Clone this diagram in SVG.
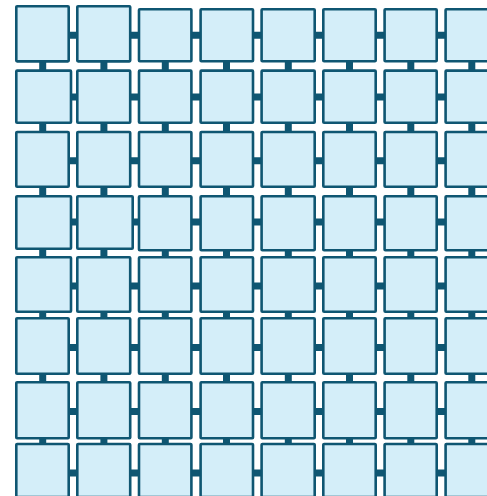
<svg xmlns="http://www.w3.org/2000/svg" width="487" height="496" viewBox="0 0 487 496">
<style>
.e{stroke:#0f5672;stroke-width:7;fill:none}
.n rect{fill:#d4eef9;stroke:#0f5672;stroke-width:2.6}
</style>
<rect width="487" height="496" fill="#ffffff"/>
<g id="connectors">
<path class="e" d="M42.7 35.2H103.9"/><path class="e" d="M103.9 35.2H165.3"/><path class="e" d="M165.3 35.2H226.5"/><path class="e" d="M226.5 35.2H288.3"/><path class="e" d="M288.3 35.2H349.5"/><path class="e" d="M349.5 35.2H410.8"/><path class="e" d="M410.8 35.2H471.8"/>
<path class="e" d="M42.7 97H103.9"/><path class="e" d="M103.9 97H165.3"/><path class="e" d="M165.3 97H226.5"/><path class="e" d="M226.5 97H288.3"/><path class="e" d="M288.3 97H349.5"/><path class="e" d="M349.5 97H410.8"/><path class="e" d="M410.8 97H471.8"/>
<path class="e" d="M42.7 160.8H103.9"/><path class="e" d="M103.9 160.8H165.3"/><path class="e" d="M165.3 160.8H226.5"/><path class="e" d="M226.5 160.8H288.3"/><path class="e" d="M288.3 160.8H349.5"/><path class="e" d="M349.5 160.8H410.8"/><path class="e" d="M410.8 160.8H471.8"/>
<path class="e" d="M42.7 222H103.9"/><path class="e" d="M103.9 222H165.3"/><path class="e" d="M165.3 222H226.5"/><path class="e" d="M226.5 222H288.3"/><path class="e" d="M288.3 222H349.5"/><path class="e" d="M349.5 222H410.8"/><path class="e" d="M410.8 222H471.8"/>
<path class="e" d="M42.7 286H103.9"/><path class="e" d="M103.9 286H165.3"/><path class="e" d="M165.3 286H226.5"/><path class="e" d="M226.5 286H288.3"/><path class="e" d="M288.3 286H349.5"/><path class="e" d="M349.5 286H410.8"/><path class="e" d="M410.8 286H471.8"/>
<path class="e" d="M42.7 347.5H103.9"/><path class="e" d="M103.9 347.5H165.3"/><path class="e" d="M165.3 347.5H226.5"/><path class="e" d="M226.5 347.5H288.3"/><path class="e" d="M288.3 347.5H349.5"/><path class="e" d="M349.5 347.5H410.8"/><path class="e" d="M410.8 347.5H471.8"/>
<path class="e" d="M42.7 411.4H103.9"/><path class="e" d="M103.9 411.4H165.3"/><path class="e" d="M165.3 411.4H226.5"/><path class="e" d="M226.5 411.4H288.3"/><path class="e" d="M288.3 411.4H349.5"/><path class="e" d="M349.5 411.4H410.8"/><path class="e" d="M410.8 411.4H471.8"/>
<path class="e" d="M42.7 473.1H103.9"/><path class="e" d="M103.9 473.1H165.3"/><path class="e" d="M165.3 473.1H226.5"/><path class="e" d="M226.5 473.1H288.3"/><path class="e" d="M288.3 473.1H349.5"/><path class="e" d="M349.5 473.1H410.8"/><path class="e" d="M410.8 473.1H471.8"/>
<path class="e" d="M42.7 35.2V97"/><path class="e" d="M42.7 97V160.8"/><path class="e" d="M42.7 160.8V222"/><path class="e" d="M42.7 222V286"/><path class="e" d="M42.7 286V347.5"/><path class="e" d="M42.7 347.5V411.4"/><path class="e" d="M42.7 411.4V473.1"/>
<path class="e" d="M103.9 35.2V97"/><path class="e" d="M103.9 97V160.8"/><path class="e" d="M103.9 160.8V222"/><path class="e" d="M103.9 222V286"/><path class="e" d="M103.9 286V347.5"/><path class="e" d="M103.9 347.5V411.4"/><path class="e" d="M103.9 411.4V473.1"/>
<path class="e" d="M165.3 35.2V97"/><path class="e" d="M165.3 97V160.8"/><path class="e" d="M165.3 160.8V222"/><path class="e" d="M165.3 222V286"/><path class="e" d="M165.3 286V347.5"/><path class="e" d="M165.3 347.5V411.4"/><path class="e" d="M165.3 411.4V473.1"/>
<path class="e" d="M226.5 35.2V97"/><path class="e" d="M226.5 97V160.8"/><path class="e" d="M226.5 160.8V222"/><path class="e" d="M226.5 222V286"/><path class="e" d="M226.5 286V347.5"/><path class="e" d="M226.5 347.5V411.4"/><path class="e" d="M226.5 411.4V473.1"/>
<path class="e" d="M288.3 35.2V97"/><path class="e" d="M288.3 97V160.8"/><path class="e" d="M288.3 160.8V222"/><path class="e" d="M288.3 222V286"/><path class="e" d="M288.3 286V347.5"/><path class="e" d="M288.3 347.5V411.4"/><path class="e" d="M288.3 411.4V473.1"/>
<path class="e" d="M349.5 35.2V97"/><path class="e" d="M349.5 97V160.8"/><path class="e" d="M349.5 160.8V222"/><path class="e" d="M349.5 222V286"/><path class="e" d="M349.5 286V347.5"/><path class="e" d="M349.5 347.5V411.4"/><path class="e" d="M349.5 411.4V473.1"/>
<path class="e" d="M410.8 35.2V97"/><path class="e" d="M410.8 97V160.8"/><path class="e" d="M410.8 160.8V222"/><path class="e" d="M410.8 222V286"/><path class="e" d="M410.8 286V347.5"/><path class="e" d="M410.8 347.5V411.4"/><path class="e" d="M410.8 411.4V473.1"/>
<path class="e" d="M471.8 35.2V97"/><path class="e" d="M471.8 97V160.8"/><path class="e" d="M471.8 160.8V222"/><path class="e" d="M471.8 222V286"/><path class="e" d="M471.8 286V347.5"/><path class="e" d="M471.8 347.5V411.4"/><path class="e" d="M471.8 411.4V473.1"/>
</g>
<g id="nodes">
<g id="n-0-0" class="n"><rect x="16.3" y="6.3" width="52.4" height="55.1" rx="0.8"/></g>
<g id="n-0-1" class="n"><rect x="77.3" y="6.3" width="52.9" height="55.1" rx="0.8"/></g>
<g id="n-0-2" class="n"><rect x="139" y="9.3" width="52.4" height="51.9" rx="0.8"/></g>
<g id="n-0-3" class="n"><rect x="200.6" y="9.3" width="52.4" height="51.9" rx="0.8"/></g>
<g id="n-0-4" class="n"><rect x="261.6" y="9.3" width="53.1" height="51.9" rx="0.8"/></g>
<g id="n-0-5" class="n"><rect x="323.3" y="9.3" width="52.4" height="51.9" rx="0.8"/></g>
<g id="n-0-6" class="n"><rect x="384.6" y="9.3" width="52.1" height="51.9" rx="0.8"/></g>
<g id="n-0-7" class="n"><rect x="445.6" y="9.3" width="52.6" height="51.9" rx="0.8"/></g>
<g id="n-1-0" class="n"><rect x="16.3" y="70.6" width="54.7" height="52.1" rx="0.8"/></g>
<g id="n-1-1" class="n"><rect x="77.3" y="70.6" width="52.9" height="52.1" rx="0.8"/></g>
<g id="n-1-2" class="n"><rect x="139" y="70.6" width="52.4" height="52.1" rx="0.8"/></g>
<g id="n-1-3" class="n"><rect x="200.6" y="70.6" width="52.4" height="52.1" rx="0.8"/></g>
<g id="n-1-4" class="n"><rect x="261.6" y="70.6" width="53.1" height="52.1" rx="0.8"/></g>
<g id="n-1-5" class="n"><rect x="323.3" y="70.6" width="52.4" height="52.1" rx="0.8"/></g>
<g id="n-1-6" class="n"><rect x="384.6" y="70.6" width="52.1" height="52.1" rx="0.8"/></g>
<g id="n-1-7" class="n"><rect x="445.6" y="70.6" width="52.6" height="52.1" rx="0.8"/></g>
<g id="n-2-0" class="n"><rect x="16.3" y="132" width="52.4" height="54.7" rx="0.8"/></g>
<g id="n-2-1" class="n"><rect x="77.3" y="132" width="52.9" height="54.7" rx="0.8"/></g>
<g id="n-2-2" class="n"><rect x="139" y="132" width="52.4" height="54.7" rx="0.8"/></g>
<g id="n-2-3" class="n"><rect x="200.6" y="132" width="52.4" height="54.7" rx="0.8"/></g>
<g id="n-2-4" class="n"><rect x="261.6" y="132" width="53.1" height="54.7" rx="0.8"/></g>
<g id="n-2-5" class="n"><rect x="323.3" y="132" width="52.4" height="54.7" rx="0.8"/></g>
<g id="n-2-6" class="n"><rect x="384.6" y="132" width="52.1" height="54.7" rx="0.8"/></g>
<g id="n-2-7" class="n"><rect x="445.6" y="132" width="52.6" height="54.7" rx="0.8"/></g>
<g id="n-3-0" class="n"><rect x="16.3" y="196.3" width="54.7" height="52.4" rx="0.8"/></g>
<g id="n-3-1" class="n"><rect x="77.3" y="196.3" width="55.4" height="52.4" rx="0.8"/></g>
<g id="n-3-2" class="n"><rect x="139" y="196.3" width="52.4" height="53.9" rx="0.8"/></g>
<g id="n-3-3" class="n"><rect x="200.6" y="196.3" width="52.4" height="53.9" rx="0.8"/></g>
<g id="n-3-4" class="n"><rect x="261.6" y="196.3" width="53.1" height="53.9" rx="0.8"/></g>
<g id="n-3-5" class="n"><rect x="323.3" y="196.3" width="52.4" height="53.9" rx="0.8"/></g>
<g id="n-3-6" class="n"><rect x="384.6" y="196.3" width="52.1" height="53.9" rx="0.8"/></g>
<g id="n-3-7" class="n"><rect x="445.6" y="196.3" width="52.6" height="53.9" rx="0.8"/></g>
<g id="n-4-0" class="n"><rect x="16.3" y="257.3" width="54.7" height="54.4" rx="0.8"/></g>
<g id="n-4-1" class="n"><rect x="77.3" y="257.3" width="52.9" height="54.4" rx="0.8"/></g>
<g id="n-4-2" class="n"><rect x="139" y="257.3" width="52.4" height="54.4" rx="0.8"/></g>
<g id="n-4-3" class="n"><rect x="200.6" y="257.3" width="52.4" height="54.4" rx="0.8"/></g>
<g id="n-4-4" class="n"><rect x="261.6" y="257.3" width="53.1" height="54.4" rx="0.8"/></g>
<g id="n-4-5" class="n"><rect x="323.3" y="257.3" width="52.4" height="54.4" rx="0.8"/></g>
<g id="n-4-6" class="n"><rect x="384.6" y="257.3" width="52.1" height="54.4" rx="0.8"/></g>
<g id="n-4-7" class="n"><rect x="445.6" y="257.3" width="52.6" height="54.4" rx="0.8"/></g>
<g id="n-5-0" class="n"><rect x="16.3" y="318.3" width="52.4" height="55.4" rx="0.8"/></g>
<g id="n-5-1" class="n"><rect x="77.3" y="318.3" width="52.9" height="55.4" rx="0.8"/></g>
<g id="n-5-2" class="n"><rect x="139" y="318.3" width="52.4" height="55.4" rx="0.8"/></g>
<g id="n-5-3" class="n"><rect x="200.6" y="318.3" width="52.4" height="55.4" rx="0.8"/></g>
<g id="n-5-4" class="n"><rect x="261.6" y="318.3" width="53.1" height="55.4" rx="0.8"/></g>
<g id="n-5-5" class="n"><rect x="323.3" y="318.3" width="52.4" height="55.4" rx="0.8"/></g>
<g id="n-5-6" class="n"><rect x="384.6" y="318.3" width="52.1" height="55.4" rx="0.8"/></g>
<g id="n-5-7" class="n"><rect x="445.6" y="318.3" width="52.6" height="55.4" rx="0.8"/></g>
<g id="n-6-0" class="n"><rect x="16.3" y="382.3" width="52.4" height="55.9" rx="0.8"/></g>
<g id="n-6-1" class="n"><rect x="77.3" y="382.3" width="52.9" height="55.9" rx="0.8"/></g>
<g id="n-6-2" class="n"><rect x="139" y="382.3" width="52.4" height="55.9" rx="0.8"/></g>
<g id="n-6-3" class="n"><rect x="200.6" y="382.3" width="52.4" height="55.9" rx="0.8"/></g>
<g id="n-6-4" class="n"><rect x="261.6" y="382.3" width="53.1" height="55.9" rx="0.8"/></g>
<g id="n-6-5" class="n"><rect x="323.3" y="382.3" width="52.4" height="55.9" rx="0.8"/></g>
<g id="n-6-6" class="n"><rect x="384.6" y="382.3" width="52.1" height="55.9" rx="0.8"/></g>
<g id="n-6-7" class="n"><rect x="445.6" y="382.3" width="52.6" height="55.9" rx="0.8"/></g>
<g id="n-7-0" class="n"><rect x="16.3" y="444" width="52.4" height="53" rx="0.8"/></g>
<g id="n-7-1" class="n"><rect x="77.3" y="444" width="52.9" height="53" rx="0.8"/></g>
<g id="n-7-2" class="n"><rect x="139" y="444" width="52.4" height="53" rx="0.8"/></g>
<g id="n-7-3" class="n"><rect x="200.6" y="444" width="52.4" height="53" rx="0.8"/></g>
<g id="n-7-4" class="n"><rect x="261.6" y="444" width="53.1" height="53" rx="0.8"/></g>
<g id="n-7-5" class="n"><rect x="323.3" y="444" width="52.4" height="53" rx="0.8"/></g>
<g id="n-7-6" class="n"><rect x="384.6" y="444" width="52.1" height="53" rx="0.8"/></g>
<g id="n-7-7" class="n"><rect x="445.6" y="444" width="52.6" height="53" rx="0.8"/></g>
</g>
</svg>
